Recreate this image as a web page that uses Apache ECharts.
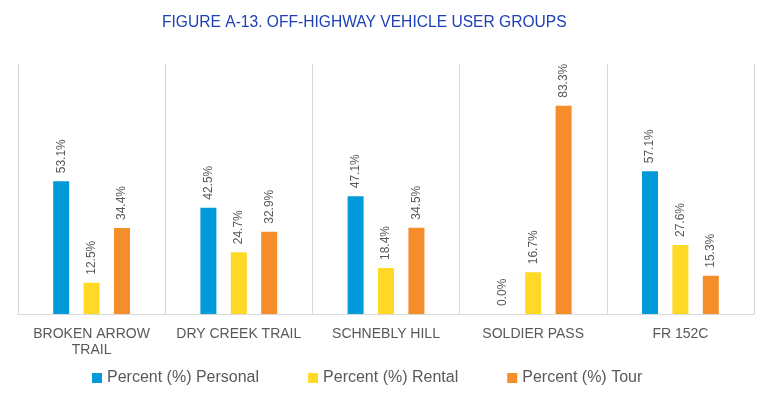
<!DOCTYPE html>
<html>
<head>
<meta charset="utf-8">
<script src="https://cdn.jsdelivr.net/npm/echarts@6/dist/echarts.min.js"></script>
<style>
  html, body { margin: 0; padding: 0; background: #fff; }
  #chart { width: 772px; height: 398px; }
</style>
</head>
<body>
<div id="chart"></div>
<script>
// data
var categories = ["BROKEN ARROW\nTRAIL", "DRY CREEK TRAIL", "SCHNEBLY HILL", "SOLDIER PASS", "FR 152C"];
var personal = [53.1, 42.5, 47.1, 0.0, 57.1];
var rental = [12.5, 24.7, 18.4, 16.7, 27.6];
var tour = [34.4, 32.9, 34.5, 83.3, 15.3];

var chart = echarts.init(document.getElementById("chart"));

function barSeries(name, data, color) {
  return {
    name: name,
    type: "bar",
    data: data,
    barWidth: 16,
    barGap: "90%",
    itemStyle: { color: color },
    label: {
      show: true,
      position: "top",
      rotate: 90,
      align: "left",
      verticalAlign: "middle",
      distance: 8,
      color: "#595959",
      fontSize: 12,
      fontFamily: "Liberation Sans",
      formatter: function (p) { return p.value.toFixed(1) + "%"; }
    }
  };
}

var option = {
  title: {
    text: "FIGURE A-13. OFF-HIGHWAY VEHICLE USER GROUPS",
    left: 157,
    top: 10,
    textStyle: {
      color: "#1E40B8",
      fontSize: 15.6,
      fontWeight: "normal",
      fontFamily: "Liberation Sans"
    }
  },
  legend: {
    bottom: 7,
    left: 87,
    itemWidth: 10,
    itemHeight: 10,
    itemGap: 49,
    icon: "rect",
    textStyle: { color: "#595959", fontSize: 16, fontFamily: "Liberation Sans" },
    data: ["Percent (%) Personal", "Percent (%) Rental", "Percent (%) Tour"]
  },
  grid: { left: 18, right: 18, top: 64, bottom: 84 },
  xAxis: {
    type: "category",
    data: categories,
    axisLine: { lineStyle: { color: "#D9D9D9", width: 1 } },
    axisTick: { show: false },
    splitLine: { show: true, lineStyle: { color: "#D9D9D9", width: 1 } },
    axisLabel: {
      color: "#595959",
      fontSize: 14,
      fontFamily: "Liberation Sans",
      margin: 12,
      lineHeight: 16,
      interval: 0
    }
  },
  yAxis: {
    type: "value",
    min: 0,
    max: 100,
    show: false,
    splitLine: { show: false }
  },
  series: [
    barSeries("Percent (%) Personal", personal, "#009ADA"),
    barSeries("Percent (%) Rental", rental, "#FFD925"),
    barSeries("Percent (%) Tour", tour, "#F68D2B")
  ]
};

chart.setOption(option);
</script>
</body>
</html>
